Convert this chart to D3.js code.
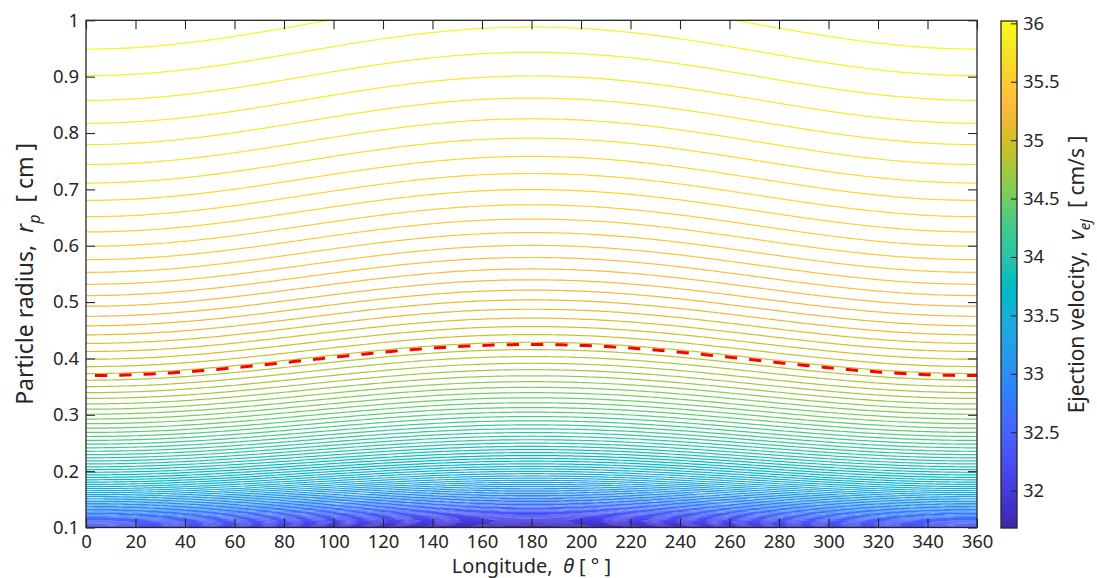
<!DOCTYPE html>
<html>
<head>
<meta charset="utf-8">
<script src="https://cdn.jsdelivr.net/npm/d3@7"></script>
<style>
  body { margin: 0; background: #fff; }
  svg { display: block; }
  svg text { fill: #262626; }
  .title { white-space: pre; }
</style>
</head>
<body>
<svg id="chart" width="1097" height="578"></svg>
<script>
// ---- Axis ticks -------------------------------------------------------
const longitudeTicks = [0, 20, 40, 60, 80, 100, 120, 140, 160, 180, 200, 220, 240, 260, 280, 300, 320, 340, 360];
const radiusTicks = [0.1, 0.2, 0.3, 0.4, 0.5, 0.6, 0.7, 0.8, 0.9, 1];
const velocityTicks = [32, 32.5, 33, 33.5, 34, 34.5, 35, 35.5, 36];

// ---- Ejection-velocity field  v_ej(r, θ) = A(θ) − B(θ) / √r -------------
// coefficients at θ = 0° and θ = 180° (cos-shaped in between)
const offsetCoef = [37.778, 37.908];   // A  [cm/s]
const scaleCoef = [1.758, 1.9695];     // B  [cm/s · cm^½]
const velocityRange = [31.68, 36.02];  // colour limits [cm/s]
const levelCount = 92;                 // contour levels inside the range
const criticalVelocity = 34.886;       // highlighted (dashed) contour [cm/s]

const longitudeDomain = [0, 360];
const radiusDomain = [0.1, 1];

// MATLAB parula colour map, 64 entries
const parula = [
  [0.2422,0.1504,0.6603],[0.2504,0.1650,0.7076],[0.2578,0.1818,0.7511],[0.2647,0.1978,0.7952],
  [0.2706,0.2147,0.8364],[0.2751,0.2342,0.8710],[0.2783,0.2559,0.8991],[0.2803,0.2782,0.9221],
  [0.2813,0.3006,0.9414],[0.2810,0.3228,0.9579],[0.2795,0.3447,0.9717],[0.2760,0.3667,0.9829],
  [0.2699,0.3892,0.9906],[0.2602,0.4123,0.9952],[0.2440,0.4358,0.9988],[0.2206,0.4603,0.9973],
  [0.1963,0.4847,0.9892],[0.1834,0.5074,0.9798],[0.1786,0.5289,0.9682],[0.1764,0.5499,0.9520],
  [0.1687,0.5703,0.9359],[0.1540,0.5902,0.9218],[0.1460,0.6091,0.9079],[0.1380,0.6276,0.8973],
  [0.1248,0.6459,0.8883],[0.1113,0.6635,0.8763],[0.0952,0.6798,0.8598],[0.0689,0.6948,0.8394],
  [0.0297,0.7082,0.8163],[0.0036,0.7203,0.7917],[0.0067,0.7312,0.7660],[0.0433,0.7411,0.7394],
  [0.0964,0.7500,0.7120],[0.1408,0.7584,0.6842],[0.1717,0.7670,0.6554],[0.1938,0.7758,0.6251],
  [0.2161,0.7843,0.5923],[0.2470,0.7918,0.5567],[0.2906,0.7973,0.5188],[0.3406,0.8008,0.4789],
  [0.3909,0.8029,0.4354],[0.4456,0.8024,0.3909],[0.5044,0.7993,0.3480],[0.5616,0.7942,0.3045],
  [0.6174,0.7876,0.2612],[0.6720,0.7793,0.2227],[0.7242,0.7698,0.1910],[0.7738,0.7598,0.1646],
  [0.8203,0.7498,0.1535],[0.8634,0.7406,0.1596],[0.9035,0.7330,0.1774],[0.9393,0.7288,0.2100],
  [0.9728,0.7298,0.2394],[0.9956,0.7434,0.2371],[0.9970,0.7659,0.2199],[0.9952,0.7893,0.2028],
  [0.9892,0.8136,0.1885],[0.9786,0.8386,0.1766],[0.9676,0.8639,0.1643],[0.9610,0.8890,0.1537],
  [0.9597,0.9135,0.1423],[0.9628,0.9373,0.1265],[0.9691,0.9606,0.1064],[0.9769,0.9839,0.0805]
];

// ---- Layout -------------------------------------------------------------
const plot = { left: 86, right: 977, top: 20.3, bottom: 527.5 };
const bar = { left: 1001, right: 1017, top: 21, bottom: 528 };
const ink = "#262626";
const font = '"Noto Sans", "DejaVu Sans", sans-serif';

const svg = d3.select("#chart").attr("font-family", font);
const x = d3.scaleLinear().domain(longitudeDomain).range([plot.left, plot.right]);
const y = d3.scaleLinear().domain(radiusDomain).range([plot.bottom, plot.top]);
const cb = d3.scaleLinear().domain(velocityRange).range([bar.bottom, bar.top]);

const parulaHex = parula.map(c => d3.rgb(c[0] * 255, c[1] * 255, c[2] * 255).formatHex());
const colour = d3.scaleLinear()
  .domain(parulaHex.map((_, i) => velocityRange[0] + (velocityRange[1] - velocityRange[0]) * i / (parulaHex.length - 1)))
  .range(parulaHex)
  .interpolate(d3.interpolateRgb)
  .clamp(true);

// ---- Sample the field on a grid a little larger than the axes -------------
const thStep = 2, th0 = -6, nx = 187;             // θ = -6° … 366°
const rStep = 0.0008, r0 = 0.09;
const ny = Math.ceil((1.012 - r0) / rStep) + 1;

function velocity(r, thDeg) {
  const w = (1 - Math.cos(thDeg * Math.PI / 180)) / 2;
  const A = offsetCoef[0] + (offsetCoef[1] - offsetCoef[0]) * w;
  const B = scaleCoef[0] + (scaleCoef[1] - scaleCoef[0]) * w;
  return A - B / Math.sqrt(r);
}

const values = new Float64Array(nx * ny);
for (let j = 0; j < ny; j++) {
  const r = r0 + j * rStep;
  for (let i = 0; i < nx; i++) values[j * nx + i] = velocity(r, th0 + i * thStep);
}

const levels = d3.range(1, levelCount + 1)
  .map(k => velocityRange[0] + k * (velocityRange[1] - velocityRange[0]) / (levelCount + 1));

// grid coordinate -> data coordinate
const toData = p => [th0 + (p[0] - 0.5) * thStep, r0 + (p[1] - 0.5) * rStep];
const onEdge = p => p[0] === 0 || p[0] === nx || p[1] === 0 || p[1] === ny;

// Contour rings are closed along the grid edge; keep only the iso-lines.
function ringSegments(ring) {
  const pts = ring.slice(0, -1);
  const start = pts.findIndex(onEdge);
  if (start < 0) return [ring];
  const segs = [];
  let cur = [];
  for (let k = 0; k < pts.length; k++) {
    const p = pts[(start + k) % pts.length];
    if (onEdge(p)) { if (cur.length > 1) segs.push(cur); cur = []; }
    else cur.push(p);
  }
  if (cur.length > 1) segs.push(cur);
  return segs;
}

const contourGen = d3.contours().size([nx, ny]);
const isolines = contourGen.thresholds(levels)(values);

// ---- Drawing ---------------------------------------------------------------
svg.append("rect").attr("width", 1097).attr("height", 578).attr("fill", "#fff");

svg.append("defs").append("clipPath").attr("id", "plot-clip")
  .append("rect")
  .attr("x", plot.left).attr("y", plot.top)
  .attr("width", plot.right - plot.left).attr("height", plot.bottom - plot.top);

const line = d3.line().x(d => x(d[0])).y(d => y(d[1]));

const gContours = svg.append("g").attr("clip-path", "url(#plot-clip)");
isolines.forEach(c => {
  const stroke = colour(c.value);
  c.coordinates.forEach(poly => poly.forEach(ring => {
    ringSegments(ring).forEach(seg => {
      gContours.append("path")
        .attr("d", line(seg.map(toData)))
        .attr("fill", "none")
        .attr("stroke", stroke)
        .attr("stroke-width", 1.2);
    });
  }));
});

// highlighted contour
const crit = contourGen.thresholds([criticalVelocity])(values)[0];
let critSegs = [];
crit.coordinates.forEach(poly => poly.forEach(ring => { critSegs = critSegs.concat(ringSegments(ring)); }));
const critLine = d3.greatest(critSegs, s => s.length)
  .map(toData)
  .filter(d => d[0] >= -1e-9 && d[0] <= 360 + 1e-9)
  .sort((a, b) => a[0] - b[0]);

gContours.append("path")
  .attr("d", line(critLine))
  .attr("fill", "none")
  .attr("stroke", "#ff0000")
  .attr("stroke-width", 3)
  .attr("stroke-dasharray", "12.2 12.1")
  .attr("stroke-dashoffset", 15.3);

// ---- Axes -----------------------------------------------------------------
function styleAxis(g) {
  g.attr("font-family", font);
  g.selectAll(".domain").remove();
  g.selectAll(".tick line").attr("stroke", ink).attr("stroke-width", 1.1);
  g.selectAll(".tick text").attr("fill", ink).style("font-size", "18.5px");
}

svg.append("g").attr("transform", `translate(0,${plot.bottom})`)
  .call(d3.axisBottom(x).tickValues(longitudeTicks).tickSizeInner(-9).tickSizeOuter(0).tickPadding(7.5))
  .call(styleAxis);
svg.append("g").attr("transform", `translate(0,${plot.top})`)
  .call(d3.axisTop(x).tickValues(longitudeTicks).tickSizeInner(-9).tickSizeOuter(0).tickFormat(""))
  .call(styleAxis);
svg.append("g").attr("transform", `translate(${plot.left},0)`)
  .call(d3.axisLeft(y).tickValues(radiusTicks).tickSizeInner(-9).tickSizeOuter(0).tickPadding(7).tickFormat(d => String(d)))
  .call(styleAxis);
svg.append("g").attr("transform", `translate(${plot.right},0)`)
  .call(d3.axisRight(y).tickValues(radiusTicks).tickSizeInner(-9).tickSizeOuter(0).tickFormat(""))
  .call(styleAxis);

svg.append("rect")
  .attr("x", plot.left).attr("y", plot.top)
  .attr("width", plot.right - plot.left).attr("height", plot.bottom - plot.top)
  .attr("fill", "none").attr("stroke", ink).attr("stroke-width", 1.3);

// ---- Colour bar ------------------------------------------------------------
const grad = svg.select("defs").append("linearGradient")
  .attr("id", "parula-grad").attr("x1", 0).attr("y1", 1).attr("x2", 0).attr("y2", 0);
grad.selectAll("stop").data(parulaHex).join("stop")
  .attr("offset", (_, i) => i / (parulaHex.length - 1))
  .attr("stop-color", d => d);

svg.append("rect")
  .attr("x", bar.left).attr("y", bar.top)
  .attr("width", bar.right - bar.left).attr("height", bar.bottom - bar.top)
  .attr("fill", "url(#parula-grad)");

svg.append("g").attr("transform", `translate(${bar.right},0)`)
  .call(d3.axisRight(cb).tickValues(velocityTicks).tickSizeInner(-6).tickSizeOuter(0).tickPadding(6).tickFormat(d => String(d)))
  .call(styleAxis);

svg.append("rect")
  .attr("x", bar.left).attr("y", bar.top)
  .attr("width", bar.right - bar.left).attr("height", bar.bottom - bar.top)
  .attr("fill", "none").attr("stroke", ink).attr("stroke-width", 1.3);

// ---- Titles ----------------------------------------------------------------
const xt = svg.append("text").attr("class", "title")
  .attr("x", (plot.left + plot.right) / 2).attr("y", 573)
  .attr("text-anchor", "middle").style("font-size", "20px");
xt.append("tspan").text("Longitude,  ");
xt.append("tspan").style("font-style", "italic").text("θ");
xt.append("tspan").text(" [ ° ]");

const yt = svg.append("text").attr("class", "title")
  .attr("transform", `translate(33,${(plot.top + plot.bottom) / 2}) rotate(-90)`)
  .attr("text-anchor", "middle").style("font-size", "23px");
yt.append("tspan").text("Particle radius,  ");
yt.append("tspan").style("font-style", "italic").text("r");
yt.append("tspan").attr("dy", 7).style("font-style", "italic").style("font-size", "16px").text("p");
yt.append("tspan").attr("dy", -7).text("  [ cm ]");

const ct = svg.append("text").attr("class", "title")
  .attr("transform", `translate(1084,${(bar.top + bar.bottom) / 2}) rotate(-90)`)
  .attr("text-anchor", "middle").style("font-size", "21px");
ct.append("tspan").text("Ejection velocity,  ");
ct.append("tspan").style("font-style", "italic").text("v");
ct.append("tspan").attr("dy", 6).style("font-style", "italic").style("font-size", "15px").text("ej");
ct.append("tspan").attr("dy", -6).text("  [ cm/s ]");
</script>
</body>
</html>
